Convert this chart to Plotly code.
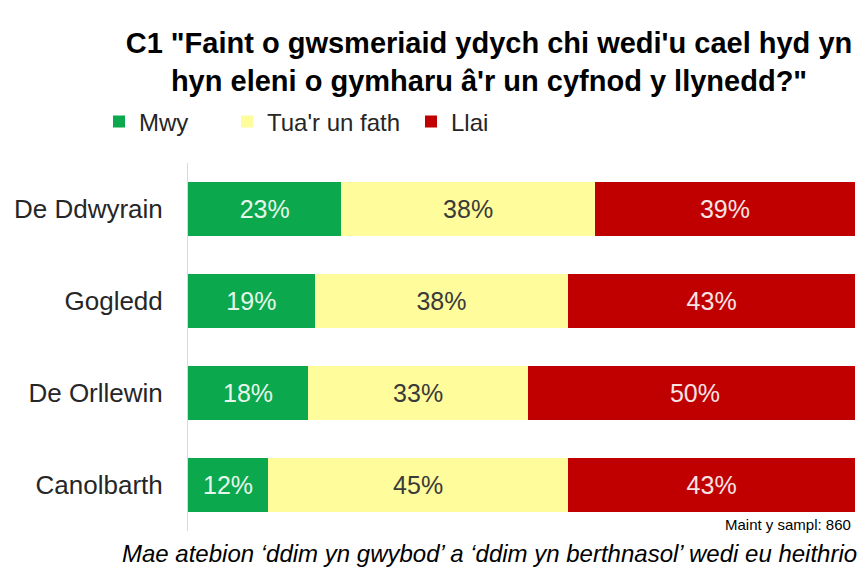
import plotly.graph_objects as go

regions = ["De Ddwyrain", "Gogledd", "De Orllewin", "Canolbarth"]
mwy = [23, 19, 18, 12]
tua = [38, 38, 33, 45]
llai = [39, 43, 50, 43]
series_names = ["Mwy", "Tua'r un fath", "Llai"]
colors = ["#0BA84E", "#FFFC9C", "#C00000"]
text_colors = ["#E6F7EA", "#3A3A3A", "#F7E3E3"]

title_text = ("<b>C1 \"Faint o gwsmeriaid ydych chi wedi'u cael hyd yn<br>"
              "hyn eleni o gymharu â'r un cyfnod y llynedd?\"</b>")
sample_note = "Maint y sampl: 860"
footnote = "Mae atebion ‘ddim yn gwybod’ a ‘ddim yn berthnasol’ wedi eu heithrio"

FONT = "Liberation Sans, Arial, sans-serif"

fig = go.Figure()
legends = ["legend", "legend2", "legend3"]
for name, vals, col, tcol, lg in zip(series_names, [mwy, tua, llai], colors, text_colors, legends):
    fig.add_trace(go.Bar(
        y=regions, x=vals, name=name, orientation="h",
        marker=dict(color=col, line=dict(width=0)),
        text=[f"{v}%" for v in vals], textposition="inside",
        insidetextanchor="middle", textangle=0,
        insidetextfont=dict(color=tcol, size=25, family=FONT),
        constraintext="none",
        legend=lg, hoverinfo="skip",
    ))

W, H = 861, 568
L, R, T, B = 188, 6, 163, 37
ph = H - T - B
pw = W - L - R

def px_x(px):
    return (px - L) / pw

def px_y(py):
    return (H - B - py) / ph

leg_common = dict(orientation="h", yanchor="middle", xanchor="left",
                  font=dict(size=24, family=FONT, color="#262626"),
                  bgcolor="rgba(0,0,0,0)", itemwidth=30)

fig.update_layout(
    width=W, height=H,
    margin=dict(l=L, r=R, t=T, b=B),
    paper_bgcolor="white", plot_bgcolor="white",
    barmode="stack", bargap=0.41,
    font=dict(family=FONT, color="#262626"),
    title=dict(text=title_text, x=489 / W, xanchor="center",
               y=1 - 53 / H, yanchor="middle",
               font=dict(size=29, family=FONT, color="#000000")),
    legend=dict(x=px_x(99), y=px_y(122), **leg_common),
    legend2=dict(x=px_x(227), y=px_y(122), **leg_common),
    legend3=dict(x=px_x(411), y=px_y(122), **leg_common),
    xaxis=dict(range=[0, 100], showticklabels=False, showgrid=False,
               zeroline=False, showline=False, fixedrange=True),
    yaxis=dict(categoryorder="array", categoryarray=regions[::-1],
               showline=True, linecolor="#D9D9D9", linewidth=1,
               ticks="", ticklabelstandoff=19, showgrid=False,
               tickfont=dict(size=26, family=FONT, color="#262626")),
    showlegend=True,
)

fig.add_annotation(text=sample_note, xref="paper", yref="paper",
                   x=px_x(853), y=px_y(524), xanchor="right", yanchor="middle",
                   showarrow=False, font=dict(size=15, family=FONT, color="#000000"))
fig.add_annotation(text=f"<i>{footnote}</i>", xref="paper", yref="paper",
                   x=px_x(489), y=px_y(553), xanchor="center", yanchor="middle",
                   showarrow=False, font=dict(size=24, family=FONT, color="#000000"))

fig.write_html("out.html", config={"displayModeBar": False},
               post_script="document.body.style.margin='0';")
